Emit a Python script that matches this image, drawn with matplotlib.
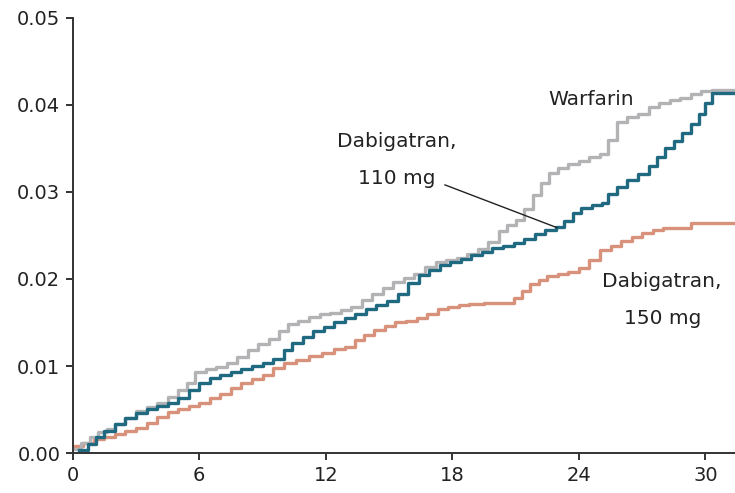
import numpy as np
import matplotlib
import matplotlib.pyplot as plt

matplotlib.rcParams['font.family'] = 'DejaVu Sans'
matplotlib.rcParams['font.size'] = 14

# months and cumulative hazard
warf_x = [0, 0.4, 0.8, 1.2, 1.6, 2.0, 2.5, 3.0, 3.5, 4.0, 4.5, 5.0, 5.4, 5.8, 6.3, 6.8, 7.3, 7.8,
          8.3, 8.8, 9.3, 9.8, 10.2, 10.7, 11.2, 11.7, 12.2, 12.7, 13.2, 13.7, 14.2, 14.7, 15.2,
          15.7, 16.2, 16.7, 17.2, 17.7, 18.2, 18.7, 19.2, 19.7, 20.2, 20.6, 21.0, 21.4, 21.8,
          22.2, 22.6, 23.0, 23.5, 24.0, 24.5, 25.0, 25.4, 25.8, 26.3, 26.8, 27.3, 27.8, 28.3,
          28.8, 29.3, 29.8, 30.3, 31.5]
warf_y = [0.0005, 0.0012, 0.0018, 0.0024, 0.0028, 0.0033, 0.0040, 0.0048, 0.0053, 0.0058,
          0.0064, 0.0072, 0.0080, 0.0093, 0.0096, 0.0099, 0.0104, 0.0110, 0.0118, 0.0125,
          0.0131, 0.0140, 0.0148, 0.0152, 0.0156, 0.0160, 0.0161, 0.0164, 0.0168, 0.0176,
          0.0183, 0.0190, 0.0196, 0.0201, 0.0206, 0.0214, 0.0220, 0.0222, 0.0224, 0.0229,
          0.0234, 0.0243, 0.0255, 0.0262, 0.0268, 0.0280, 0.0296, 0.0310, 0.0322, 0.0327,
          0.0332, 0.0335, 0.0340, 0.0344, 0.0360, 0.0380, 0.0386, 0.0390, 0.0398, 0.0402,
          0.0406, 0.0408, 0.0412, 0.0416, 0.0417, 0.0417]

d110_x = [0.3, 0.7, 1.1, 1.5, 2.0, 2.5, 3.0, 3.5, 4.0, 4.5, 5.0, 5.5, 6.0, 6.5, 7.0, 7.5, 8.0,
          8.5, 9.0, 9.5, 10.0, 10.4, 10.9, 11.4, 11.9, 12.4, 12.9, 13.4, 13.9, 14.4, 14.9, 15.4,
          15.9, 16.4, 16.9, 17.4, 17.9, 18.4, 18.9, 19.4, 19.9, 20.4, 20.9, 21.4, 21.9, 22.4,
          22.9, 23.3, 23.7, 24.1, 24.6, 25.1, 25.4, 25.8, 26.3, 26.8, 27.3, 27.7, 28.1, 28.5,
          28.9, 29.3, 29.7, 30.0, 30.3, 31.5]
d110_y = [0.0003, 0.0010, 0.0018, 0.0025, 0.0033, 0.0040, 0.0046, 0.0051, 0.0054, 0.0058,
          0.0063, 0.0072, 0.0081, 0.0086, 0.0090, 0.0093, 0.0096, 0.0100, 0.0104, 0.0108,
          0.0118, 0.0126, 0.0133, 0.0140, 0.0145, 0.0150, 0.0155, 0.0160, 0.0165, 0.0170,
          0.0175, 0.0183, 0.0195, 0.0205, 0.0210, 0.0216, 0.0220, 0.0223, 0.0227, 0.0231,
          0.0235, 0.0238, 0.0241, 0.0246, 0.0252, 0.0256, 0.0260, 0.0266, 0.0276, 0.0282,
          0.0285, 0.0287, 0.0298, 0.0306, 0.0314, 0.0320, 0.0330, 0.0340, 0.0350, 0.0358,
          0.0368, 0.0378, 0.0390, 0.0402, 0.0414, 0.0414]

d150_x = [0, 0.5, 1.0, 1.5, 2.0, 2.5, 3.0, 3.5, 4.0, 4.5, 5.0, 5.5, 6.0, 6.5, 7.0, 7.5, 8.0,
          8.5, 9.0, 9.5, 10.0, 10.6, 11.2, 11.8, 12.4, 12.9, 13.4, 13.8, 14.3, 14.8, 15.3,
          15.8, 16.3, 16.8, 17.3, 17.8, 18.3, 18.8, 19.5, 20.2, 20.9, 21.3, 21.7, 22.1, 22.5,
          23.0, 23.5, 24.0, 24.5, 25.0, 25.5, 26.0, 26.5, 27.0, 27.5, 28.0, 29.3, 31.5]
d150_y = [0.0008, 0.0012, 0.0016, 0.0019, 0.0022, 0.0025, 0.0029, 0.0034, 0.0041, 0.0047,
          0.0051, 0.0054, 0.0058, 0.0063, 0.0068, 0.0075, 0.0080, 0.0085, 0.0090, 0.0098,
          0.0103, 0.0107, 0.0111, 0.0115, 0.0119, 0.0122, 0.0130, 0.0136, 0.0141, 0.0146,
          0.0150, 0.0152, 0.0155, 0.0160, 0.0166, 0.0168, 0.0170, 0.0171, 0.0172, 0.0172,
          0.0178, 0.0186, 0.0194, 0.0199, 0.0203, 0.0206, 0.0208, 0.0212, 0.0222, 0.0233,
          0.0238, 0.0244, 0.0248, 0.0253, 0.0256, 0.0258, 0.0264, 0.0264]

x_ticks = [0, 6, 12, 18, 24, 30]
y_ticks = [0.00, 0.01, 0.02, 0.03, 0.04, 0.05]

fig = plt.figure(figsize=(7.35, 4.93), dpi=100)
ax = fig.add_axes([0.099, 0.081, 0.901, 0.883])

ax.step(d150_x, d150_y, where='post', color='#d8917b', lw=2.4)
ax.step(warf_x, warf_y, where='post', color='#b3b3b5', lw=2.4)
ax.step(d110_x, d110_y, where='post', color='#1f6a80', lw=2.4)

# graphic settings
ax.set_xlim(0, 31.4)
ax.set_ylim(0, 0.05)
ax.set_xticks(x_ticks)
ax.set_yticks(y_ticks)
ax.set_yticklabels(['%.2f' % v for v in y_ticks])
for s in ['top', 'right']:
    ax.spines[s].set_visible(False)
for s in ['left', 'bottom']:
    ax.spines[s].set_linewidth(1.4)
    ax.spines[s].set_color('#333333')
ax.tick_params(direction='out', length=5, width=1.4, color='#333333', labelcolor='#222222',
               labelsize=14, pad=4)

# labels
ax.text(24.6, 0.0406, 'Warfarin', ha='center', va='center', fontsize=14.5, color='#222222')
ax.text(15.35, 0.0337, 'Dabigatran,\n110 mg', ha='center', va='center', fontsize=14.5,
        color='#222222', linespacing=2.2)
ax.text(27.95, 0.0176, 'Dabigatran,\n150 mg', ha='center', va='center', fontsize=14.5,
        color='#222222', linespacing=2.2)
ax.plot([17.65, 22.95], [0.0308, 0.0259], color='#222222', lw=1.0)

plt.savefig('out.png', dpi=100)
